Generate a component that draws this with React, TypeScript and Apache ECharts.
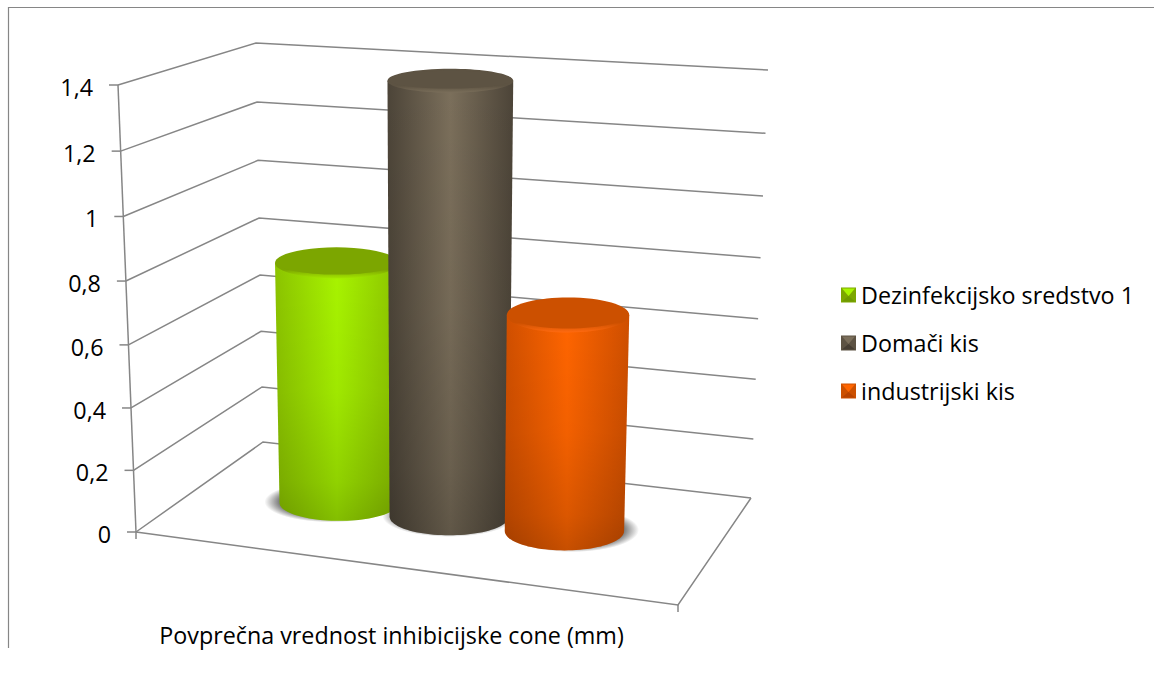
import React, { useEffect, useRef } from "react";
import * as echarts from "echarts";

const categories = ["Povprečna vrednost inhibicijske cone (mm)"];
const seriesNames = ["Dezinfekcijsko sredstvo 1", "Domači kis", "industrijski kis"];
const seriesValues = [0.8, 1.4, 0.7];
const tickValues = [0, 0.2, 0.4, 0.6, 0.8, 1, 1.2, 1.4];
const tickLabels = ["0", "0,2", "0,4", "0,6", "0,8", "1", "1,2", "1,4"];

type Pt = [number, number];

// Corners of the perspective box, bottom plane then top plane.
const FL0: Pt = [136, 532];
const FR0: Pt = [678, 605];
const BL0: Pt = [263, 442];
const BR0: Pt = [751, 498];
const FLT: Pt = [118, 85];
const FRT: Pt = [692, 122];
const BLT: Pt = [256, 43];
const BRT: Pt = [768, 70];

const GRID = { left: 136, top: 85, width: 511, height: 447 };
const FONT = "Open Sans";
const FONT_SIZE = 23.3;
const LINE = "#868686";
const BAR_U = [-0.232, -0.018, 0.206]; // horizontal offset of each bar inside the band
const BAR_DEPTH = 0.515;
const RADIUS_U = 0.116;
const RADIUS_D = 0.19;

const palettes = [
  { edge: "#8cc400", mid: "#a8f400", cap: "#7ca600", rim: "#a4e800", dark: "#6f9a00" },
  { edge: "#4c4438", mid: "#7b6f5b", cap: "#5d5343", rim: "#7a6e5a", dark: "#463e33" },
  { edge: "#cf4f00", mid: "#ff6500", cap: "#cc5000", rim: "#ff6a10", dark: "#b84300" },
];

const lerp = (a: Pt, b: Pt, t: number): Pt => [a[0] + (b[0] - a[0]) * t, a[1] + (b[1] - a[1]) * t];

// Heights foreshorten slightly with distance from the viewer.
const foreshorten = (s: number) => {
  const k = 0.96;
  return (k * s) / (1 - s + k * s);
};

function project(u: number, d: number, s: number): Pt {
  const t = foreshorten(s);
  const bottom = lerp(lerp(FL0, FR0, u), lerp(BL0, BR0, u), d);
  const top = lerp(lerp(FLT, FRT, u), lerp(BLT, BRT, u), d);
  return lerp(bottom, top, t);
}

// Converts a value on the hidden cartesian axes into box coordinates.
function boxCoords(params: any, api: any, cat: number, value: number, offset = 0) {
  const grid = params.coordSys;
  const [px, py] = api.coord([cat, value]);
  const band = api.size([1, 0])[0];
  return {
    u: (px + offset * band - grid.x) / grid.width,
    s: (grid.y + grid.height - py) / grid.height,
  };
}

function cylinderGeometry(u: number, s: number) {
  const center = project(u, BAR_DEPTH, s);
  const left = project(u - RADIUS_U, BAR_DEPTH, s);
  const right = project(u + RADIUS_U, BAR_DEPTH, s);
  const front = project(u, BAR_DEPTH - RADIUS_D, s);
  const back = project(u, BAR_DEPTH + RADIUS_D, s);
  return {
    cx: (left[0] + right[0]) / 2,
    cy: center[1],
    rx: (right[0] - left[0]) / 2,
    ry: (front[1] - back[1]) / 2,
  };
}

const renderWalls = (params: any, api: any) => {
  const value = api.value(0);
  const { s } = boxCoords(params, api, 0, value);
  const fl = project(0, 0, s);
  const bl = project(0, 1, s);
  const br = project(1, 1, s);
  const stroke = { stroke: LINE, lineWidth: 1.5, fill: "none" };
  const children: any[] = [
    { type: "polyline", shape: { points: [fl, bl, br] }, style: stroke },
    { type: "line", shape: { x1: fl[0] - 9, y1: fl[1], x2: fl[0], y2: fl[1] }, style: stroke },
    {
      type: "text",
      style: {
        text: tickLabels[params.dataIndex],
        x: fl[0] - 25,
        y: fl[1] + 2,
        align: "right",
        verticalAlign: "middle",
        fontFamily: FONT,
        fontSize: FONT_SIZE,
        fill: "#000",
      },
    },
  ];
  if (value === 0) {
    const fr = project(1, 0, 0);
    const brFloor = project(1, 1, 0);
    const flTop = project(0, 0, 1);
    children.push(
      { type: "polyline", shape: { points: [fl, fr, brFloor] }, style: stroke },
      { type: "line", shape: { x1: fl[0], y1: fl[1], x2: flTop[0], y2: flTop[1] }, style: stroke },
      { type: "line", shape: { x1: fl[0], y1: fl[1], x2: fl[0], y2: fl[1] + 7 }, style: stroke },
      { type: "line", shape: { x1: fr[0], y1: fr[1], x2: fr[0], y2: fr[1] + 7 }, style: stroke },
    );
  }
  return { type: "group", children };
};

const renderShadow = (params: any, api: any) => {
  const i = params.dataIndex;
  const { u } = boxCoords(params, api, 0, 0, BAR_U[i]);
  const base = cylinderGeometry(u, 0);
  return {
    type: "ellipse",
    shape: {
      cx: base.cx + (u - 0.49) * 36,
      cy: base.cy - 1,
      rx: base.rx * 1.12,
      ry: base.ry * 1.14,
    },
    style: {
      fill: new echarts.graphic.RadialGradient(0.5, 0.5, 0.5, [
        { offset: 0, color: "rgba(70,70,70,0.75)" },
        { offset: 0.78, color: "rgba(70,70,70,0.7)" },
        { offset: 1, color: "rgba(70,70,70,0)" },
      ]),
    },
  };
};

const makeCylinder = (index: number) => (params: any, api: any) => {
  const value = api.value(0);
  const colors = palettes[index];
  const { u, s } = boxCoords(params, api, 0, value, BAR_U[index]);
  const top = cylinderGeometry(u, s);
  const base = cylinderGeometry(u, 0);

  const outline: Pt[] = [
    [top.cx - top.rx, top.cy + 2],
    [top.cx + top.rx, top.cy + 2],
  ];
  for (let a = 0; a <= 48; a++) {
    const ang = (Math.PI * a) / 48;
    outline.push([base.cx + base.rx * Math.cos(ang), base.cy + base.ry * Math.sin(ang)]);
  }

  const sideFill = new echarts.graphic.LinearGradient(0, 0, 1, 0, [
    { offset: 0, color: colors.edge },
    { offset: 0.5, color: colors.mid },
    { offset: 1, color: colors.edge },
  ]);
  const shade = new echarts.graphic.LinearGradient(0, 0, 0, 1, [
    { offset: 0, color: "rgba(0,0,0,0)" },
    { offset: 0.5, color: "rgba(0,0,0,0.05)" },
    { offset: 0.85, color: "rgba(0,0,0,0.14)" },
    { offset: 1, color: "rgba(0,0,0,0.22)" },
  ]);
  const rimFill = new echarts.graphic.LinearGradient(0, 0, 0, 1, [
    { offset: 0, color: colors.cap },
    { offset: 0.72, color: colors.cap },
    { offset: 1, color: colors.rim },
  ]);

  return {
    type: "group",
    children: [
      { type: "polygon", shape: { points: outline }, style: { fill: sideFill } },
      { type: "polygon", shape: { points: outline }, style: { fill: shade } },
      {
        type: "ellipse",
        shape: { cx: top.cx, cy: top.cy + 2, rx: top.rx, ry: top.ry + 3 },
        style: { fill: rimFill },
      },
      {
        type: "ellipse",
        shape: { cx: top.cx, cy: top.cy + 1, rx: top.rx - 1, ry: top.ry },
        style: { fill: colors.cap },
      },
    ],
  };
};

// Pyramid facets painted over the legend swatches.
const LEGEND_X = 841;
const LEGEND_ROWS = [296, 344, 392];
const LEGEND_LINE = 24;
const SWATCH = 15;
const swatchFacets = LEGEND_ROWS.flatMap((y, i) => {
  const p = palettes[i];
  const x0 = LEGEND_X + 1;
  const x1 = LEGEND_X + SWATCH - 1;
  const y0 = y - SWATCH / 2 + 1;
  const y1 = y + SWATCH / 2 - 1;
  const mx = (x0 + x1) / 2;
  const my = y + 1;
  return [
    { type: "polygon", z: 100, shape: { points: [[x0, y0], [x1, y0], [mx, my]] }, style: { fill: p.mid } },
    { type: "polygon", z: 100, shape: { points: [[x0, y1], [x1, y1], [mx, my]] }, style: { fill: p.dark } },
  ];
});

export default function App() {
  const ref = useRef<HTMLDivElement>(null);

  useEffect(() => {
    const chart = echarts.init(ref.current!, undefined, { renderer: "svg" });
    chart.setOption({
      animation: false,
      backgroundColor: "#fff",
      grid: GRID,
      xAxis: {
        type: "category",
        data: categories,
        axisLine: { show: false },
        axisTick: { show: false },
        axisLabel: { margin: 91, fontFamily: FONT, fontSize: FONT_SIZE, color: "#000" },
      },
      yAxis: { type: "value", min: 0, max: 1.4, interval: 0.2, show: false },
      legend: {
        orient: "vertical",
        left: LEGEND_X,
        top: LEGEND_ROWS[0] - LEGEND_LINE / 2 - 1,
        padding: 0,
        itemWidth: SWATCH,
        itemHeight: SWATCH,
        itemGap: LEGEND_ROWS[1] - LEGEND_ROWS[0] - LEGEND_LINE,
        selectedMode: false,
        textStyle: { fontFamily: FONT, fontSize: FONT_SIZE, color: "#000", lineHeight: LEGEND_LINE },
        data: seriesNames.map((name, i) => ({
          name,
          icon: "rect",
          itemStyle: { color: palettes[i].cap },
        })),
      },
      series: [
        {
          type: "custom",
          name: "walls",
          data: tickValues.map((v) => [v]),
          encode: { y: 0 },
          renderItem: renderWalls,
          z: 1,
        },
        {
          type: "custom",
          name: "floor shadows",
          data: seriesValues.map((v) => [v]),
          encode: { y: 0 },
          renderItem: renderShadow,
          z: 2,
        },
        ...seriesNames.map((name, i) => ({
          type: "custom",
          name,
          data: [[seriesValues[i]]],
          encode: { y: 0 },
          renderItem: makeCylinder(i),
          itemStyle: { color: palettes[i].edge },
          z: 3 + i,
        })),
      ],
      graphic: {
        elements: [
          { type: "line", shape: { x1: 8, y1: 7.5, x2: 1154, y2: 7.5 }, style: { stroke: LINE, lineWidth: 1.2 } },
          { type: "line", shape: { x1: 8.5, y1: 7, x2: 8.5, y2: 648 }, style: { stroke: LINE, lineWidth: 1.2 } },
          ...swatchFacets.map((f) => ({ ...f, y: -1 })),
        ],
      },
    });
    return () => chart.dispose();
  }, []);

  return (
    <div
      ref={ref}
      style={{ position: "absolute", left: 0, top: 0, width: 1154, height: 675 }}
    />
  );
}
